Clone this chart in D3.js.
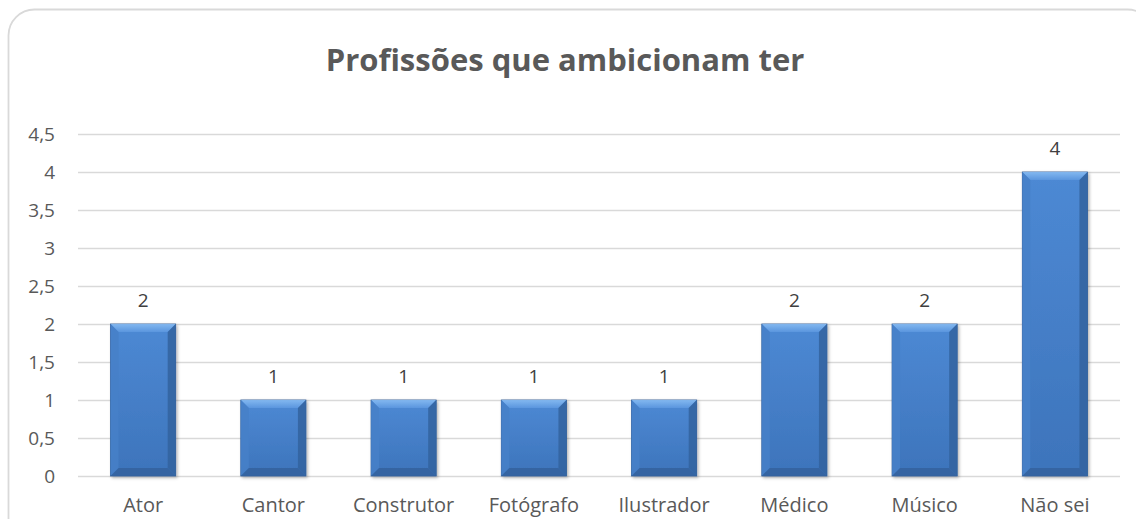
<!DOCTYPE html>
<html>
<head>
<meta charset="utf-8">
<style>
  body { margin: 0; background: #fff; }
  svg { display: block; font-family: 'Open Sans', sans-serif; }
  .y .domain, .x .domain { display: none; }
  .y .tick line { stroke: #d9d9d9; stroke-width: 1.3; }
  .x .tick line { display: none; }
  .tick text { font-family: 'Open Sans', sans-serif; font-size: 20px; fill: #595959; }
  .y .tick text { font-size: 19px; }
  .title { font-size: 31px; font-weight: bold; fill: #595959; }
  .value { font-size: 19px; fill: #404040; }
</style>
</head>
<body>
<svg width="1136" height="519"></svg>
<script src="https://d3js.org/d3.v7.min.js"></script>
<script>
  let categories = ["Ator", "Cantor", "Construtor", "Fotógrafo", "Ilustrador", "Médico", "Músico", "Não sei"];
  let values = [2, 1, 1, 1, 1, 2, 2, 4];
  let yTicks = [0, 0.5, 1, 1.5, 2, 2.5, 3, 3.5, 4, 4.5];

  let width = 1136;
  let height = 519;
  let margin = { top: 134, right: 16, bottom: 43, left: 78 };

  let svg = d3.select("svg");

  // chart frame
  svg.append("rect")
      .attr("x", 8.5)
      .attr("y", 9.5)
      .attr("width", 1145)
      .attr("height", 560)
      .attr("rx", 26)
      .attr("fill", "white")
      .attr("stroke", "#d9d9d9")
      .attr("stroke-width", 1.8);

  svg.append("text")
      .attr("class", "title")
      .attr("x", 565)
      .attr("y", 71)
      .attr("text-anchor", "middle")
      .text("Profissões que ambicionam ter");

  let x = d3.scaleBand()
      .domain(categories)
      .range([margin.left, width - margin.right])
      .paddingInner(0.5)
      .paddingOuter(0.25);

  let y = d3.scaleLinear()
      .domain([0, 4.5])
      .range([height - margin.bottom, margin.top]);

  let fmt = d => String(d).replace(".", ",");

  svg.append("g")
      .attr("class", "y axis")
      .attr("transform", "translate(" + margin.left + ",0)")
      .call(d3.axisLeft(y)
          .tickValues(yTicks)
          .tickSize(-(width - margin.left - margin.right))
          .tickPadding(23)
          .tickFormat(fmt));

  svg.append("g")
      .attr("class", "x axis")
      .attr("transform", "translate(0," + (height - margin.bottom) + ")")
      .call(d3.axisBottom(x).tickSize(0).tickPadding(22));

  let defs = svg.append("defs");
  let grad = defs.append("linearGradient")
      .attr("id", "barFill")
      .attr("x1", 0).attr("y1", 0).attr("x2", 0).attr("y2", 1);
  grad.append("stop").attr("offset", "0%").attr("stop-color", "#4d89d4");
  grad.append("stop").attr("offset", "100%").attr("stop-color", "#3d74bb");

  let topGrad = defs.append("linearGradient")
      .attr("id", "topFill")
      .attr("x1", 0).attr("y1", 0).attr("x2", 0).attr("y2", 1);
  topGrad.append("stop").attr("offset", "0%").attr("stop-color", "#8cc0f5");
  topGrad.append("stop").attr("offset", "100%").attr("stop-color", "#5d98e0");

  let shadow = defs.append("filter").attr("id", "shadow")
      .attr("x", "-20%").attr("y", "-10%").attr("width", "140%").attr("height", "120%");
  shadow.append("feDropShadow")
      .attr("dx", 1.5).attr("dy", 1.5).attr("stdDeviation", 1.5)
      .attr("flood-color", "#000").attr("flood-opacity", 0.3);

  let bev = 8;
  let bars = svg.append("g").attr("class", "bars")
      .selectAll("g")
      .data(categories.map((c, i) => ({ cat: c, val: values[i] })))
      .join("g");

  bars.append("rect")
      .attr("x", d => x(d.cat))
      .attr("y", d => y(d.val))
      .attr("width", x.bandwidth())
      .attr("height", d => y(0) - y(d.val))
      .attr("fill", "url(#barFill)")
      .attr("stroke", "#2f5d98")
      .attr("stroke-width", 0.8)
      .attr("filter", "url(#shadow)");

  // bevel edges
  function pts(d) {
    let x0 = x(d.cat), x1 = x0 + x.bandwidth(), y0 = y(d.val), y1 = y(0);
    return { x0, x1, y0, y1 };
  }
  let edges = [
    { fill: "url(#topFill)", f: p => [[p.x0, p.y0], [p.x1, p.y0], [p.x1 - bev, p.y0 + bev], [p.x0 + bev, p.y0 + bev]] },
    { fill: "#4780c8", f: p => [[p.x0, p.y0], [p.x0 + bev, p.y0 + bev], [p.x0 + bev, p.y1 - bev], [p.x0, p.y1]] },
    { fill: "#33639f", f: p => [[p.x1, p.y0], [p.x1, p.y1], [p.x1 - bev, p.y1 - bev], [p.x1 - bev, p.y0 + bev]] },
    { fill: "#34629d", f: p => [[p.x0, p.y1], [p.x0 + bev, p.y1 - bev], [p.x1 - bev, p.y1 - bev], [p.x1, p.y1]] }
  ];
  edges.forEach(e => {
    bars.append("polygon")
        .attr("points", d => e.f(pts(d)).map(q => q.join(",")).join(" "))
        .attr("fill", e.fill)
        .attr("opacity", 0.85);
  });

  bars.append("text")
      .attr("class", "value")
      .attr("x", d => x(d.cat) + x.bandwidth() / 2)
      .attr("y", d => y(d.val) - 17)
      .attr("text-anchor", "middle")
      .text(d => fmt(d.val));
</script>
</body>
</html>
